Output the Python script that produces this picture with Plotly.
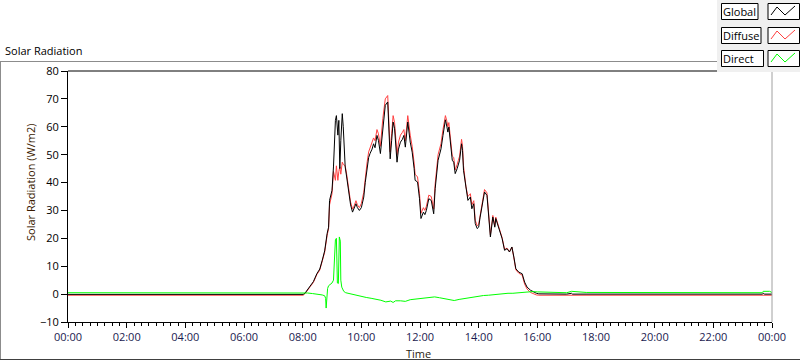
import pandas as pd
import plotly.graph_objects as go

# ---------------- data ----------------
series_names = ["Global", "Diffuse", "Direct"]

gd_times = ["00:00", "08:01", "08:05", "08:10", "08:16", "08:22", "08:29", "08:35", "08:40", "08:45",
            "08:50", "08:53", "08:55", "09:00", "09:03", "09:05", "09:07", "09:09", "09:10", "09:12",
            "09:14", "09:16", "09:18", "09:21", "09:23", "09:27", "09:30", "09:34", "09:38", "09:42",
            "09:45", "09:49", "09:52", "09:56", "10:00", "10:05", "10:08", "10:12", "10:15", "10:18",
            "10:22", "10:25", "10:28", "10:32", "10:35", "10:39", "10:44", "10:49", "10:54", "10:56",
            "10:59", "11:02", "11:05", "11:08", "11:13", "11:16", "11:20", "11:24", "11:27", "11:30",
            "11:35", "11:40", "11:44", "11:48", "11:50", "11:55", "11:59", "12:02", "12:07", "12:10",
            "12:13", "12:18", "12:23", "12:28", "12:31", "12:37", "12:43", "12:47", "12:52", "12:55",
            "12:57", "12:59", "13:02", "13:06", "13:09", "13:12", "13:16", "13:21", "13:25", "13:27",
            "13:29", "13:34", "13:38", "13:43", "13:46", "13:50", "13:53", "13:57", "14:00", "14:03",
            "14:07", "14:12", "14:17", "14:20", "14:24", "14:29", "14:33", "14:35", "14:41", "14:44",
            "14:48", "14:53", "14:58", "15:03", "15:08", "15:12", "15:16", "15:22", "15:29", "15:34",
            "15:39", "15:46", "15:52", "15:58", "16:03", "17:00", "17:10", "17:12", "23:40", "23:42",
            "23:45", "24:00"]

global_vals = [-0.1, -0.1, 0.4, 1.5, 3.1, 4.5, 7.3, 9.0, 12.1, 15.5,
               21.7, 24.0, 33.6, 37.2, 45.6, 55.0, 62.3, 64.0, 59.9, 57.0,
               62.3, 45.0, 55.0, 64.7, 60.0, 45.6, 42.0, 36.0, 32.0, 29.4,
               30.5, 32.4, 31.0, 30.0, 31.0, 34.8, 40.0, 45.6, 49.0, 50.5,
               52.0, 53.9, 52.5, 56.9, 55.1, 50.4, 60.5, 67.7, 68.9, 60.5,
               48.5, 55.0, 61.7, 59.3, 47.3, 52.0, 54.5, 55.5, 56.9, 52.7,
               61.7, 54.5, 50.9, 45.0, 40.8, 40.2, 34.2, 27.1, 29.4, 28.5,
               30.0, 34.2, 33.6, 28.8, 37.8, 48.0, 52.1, 56.9, 62.5, 60.0,
               58.1, 59.9, 53.9, 48.0, 47.3, 43.2, 45.0, 48.0, 53.9, 51.5,
               44.4, 37.2, 33.6, 34.8, 30.6, 32.4, 25.3, 23.5, 24.0, 27.6,
               31.2, 36.6, 35.4, 28.8, 20.5, 27.6, 24.0, 27.1, 23.5, 21.7,
               19.9, 15.7, 16.3, 15.1, 16.9, 13.3, 9.1, 7.9, 7.3, 4.3,
               2.5, 1.4, 0.75, 0.3, 0.1, 0.0, 0.3, 0.0, 0.0, 0.3,
               0.0, 0.0]

diffuse_vals = [-0.4, -0.4, 0.2, 1.2, 2.8, 4.2, 7.0, 8.6, 11.8, 15.0,
                21.0, 23.5, 32.0, 36.0, 44.0, 42.0, 40.8, 46.0, 44.0, 40.8,
                44.0, 45.6, 43.0, 47.3, 46.5, 46.0, 43.0, 37.0, 33.0, 30.5,
                31.5, 33.5, 32.0, 31.0, 32.5, 36.5, 42.0, 47.5, 51.0, 52.5,
                54.0, 56.0, 55.0, 59.0, 57.5, 53.0, 63.0, 70.0, 71.2, 63.0,
                51.0, 57.5, 64.0, 61.5, 50.0, 54.5, 57.0, 58.0, 59.0, 55.0,
                64.0, 57.0, 53.0, 47.0, 43.0, 42.0, 36.0, 29.0, 31.0, 30.0,
                31.5, 35.5, 35.0, 30.5, 39.5, 50.0, 54.0, 59.0, 64.0, 62.0,
                60.0, 61.5, 55.5, 49.5, 49.0, 44.5, 46.5, 49.5, 55.5, 53.0,
                46.0, 38.5, 35.0, 36.0, 32.0, 33.5, 26.5, 24.5, 25.0, 28.5,
                32.0, 37.5, 36.3, 29.5, 21.2, 28.2, 24.5, 27.6, 24.0, 22.0,
                20.2, 16.0, 16.5, 15.2, 16.8, 13.0, 8.7, 7.5, 6.8, 3.6,
                1.8, 0.6, 0.0, -0.3, -0.4, -0.4, -0.4, -0.4, -0.4, -0.4,
                -0.4, -0.4]

direct_times = ["00:00", "08:01", "08:10", "08:20", "08:30", "08:40", "08:45", "08:47", "08:48", "08:49",
                "08:51", "08:53", "08:56", "09:00", "09:03", "09:05", "09:07", "09:09", "09:10", "09:11",
                "09:13", "09:14", "09:15", "09:17", "09:18", "09:20", "09:24", "09:28", "09:35", "09:45",
                "10:00", "10:10", "10:20", "10:30", "10:40", "10:50", "11:00", "11:05", "11:10", "11:20",
                "11:30", "11:40", "11:50", "12:00", "12:10", "12:20", "12:30", "12:40", "12:50", "13:00",
                "13:10", "13:20", "13:30", "13:40", "13:50", "14:00", "14:10", "14:20", "14:30", "14:40",
                "14:50", "15:00", "15:10", "15:20", "15:30", "15:40", "15:50", "16:00", "16:30", "17:00",
                "17:10", "17:30", "17:40", "23:40", "23:42", "23:55", "24:00"]

direct_vals = [0.5, 0.5, 0.4, 0.2, 0.0, -0.3, -0.6, -1.5, -5.0, -1.0,
               2.0, 3.0, 3.5, 4.0, 5.0, 15.0, 19.5, 20.0, 12.0, 4.0,
               3.8, 19.0, 20.5, 19.0, 5.0, 2.5, 1.0, 0.5, 0.2, -0.3,
               -0.7, -1.2, -1.5, -1.8, -2.2, -2.8, -2.5, -3.0, -2.4, -2.4,
               -2.6, -2.0, -1.8, -1.6, -1.4, -1.2, -1.0, -1.3, -1.6, -2.0,
               -2.3, -1.9, -1.6, -1.4, -1.0, -0.9, -0.5, -0.4, -0.2, 0.0,
               0.1, 0.3, 0.3, 0.5, 0.6, 0.8, 0.9, 0.8, 0.6, 0.5,
               1.0, 0.9, 0.6, 0.5, 1.0, 1.0, 0.6]

x_tick_labels = ["00:00", "02:00", "04:00", "06:00", "08:00", "10:00", "12:00",
                 "14:00", "16:00", "18:00", "20:00", "22:00", "00:00"]
y_ticks = [-10, 0, 10, 20, 30, 40, 50, 60, 70, 80]

# ---------------- helpers ----------------
BASE = pd.Timestamp("2024-01-01")


def to_dt(hhmm_list):
    out = []
    for s in hhmm_list:
        h, m = s.split(":")
        out.append(BASE + pd.Timedelta(hours=int(h), minutes=int(m)))
    return out


tick_vals = [BASE + pd.Timedelta(hours=2 * i) for i in range(len(x_tick_labels))]

colors = {"Global": "#000000", "Diffuse": "#ff4040", "Direct": "#00ff00"}

fig = go.Figure()
fig.add_trace(go.Scatter(x=to_dt(gd_times), y=diffuse_vals, mode="lines", name="Diffuse",
                         line=dict(color=colors["Diffuse"], width=1)))
fig.add_trace(go.Scatter(x=to_dt(gd_times), y=global_vals, mode="lines", name="Global",
                         line=dict(color=colors["Global"], width=1)))
fig.add_trace(go.Scatter(x=to_dt(direct_times), y=direct_vals, mode="lines", name="Direct",
                         line=dict(color=colors["Direct"], width=1)))

W, H = 800, 361
L, R, T, B = 68, 28, 71, 39
pw, ph = W - L - R, H - T - B

FONT = "Open Sans"

fig.update_layout(
    width=W, height=H,
    margin=dict(l=L, r=R, t=T, b=B, pad=0),
    paper_bgcolor="white", plot_bgcolor="white",
    showlegend=False,
    font=dict(family=FONT, size=11, color="#000000"),
    xaxis=dict(
        range=[BASE, BASE + pd.Timedelta(hours=24)],
        tickmode="array", tickvals=tick_vals, ticktext=x_tick_labels,
        ticks="outside", ticklen=5, tickwidth=1, tickcolor="#000000",
        showline=True, linecolor="#000000", linewidth=1,
        showgrid=False, zeroline=False,
        tickfont=dict(family=FONT, size=11, color="#1a1a50"),
        minor=dict(ticks="outside", ticklen=3, tickcolor="#000000",
                   dtick=15 * 60 * 1000, tick0=BASE, showgrid=False),
    ),
    yaxis=dict(
        range=[-10, 80], tickvals=y_ticks,
        ticks="outside", ticklen=6, tickwidth=1, tickcolor="#000000",
        showline=True, linecolor="#000000", linewidth=1,
        showgrid=False, zeroline=False,
        tickfont=dict(family=FONT, size=11, color="#000000"),
    ),
)


def px(x):
    return (x - L) / pw


def py(y):
    return 1 - (y - T) / ph


shapes = []
# outer panel frame
shapes.append(dict(type="line", xref="paper", yref="paper", x0=px(0), x1=px(717),
                   y0=py(61.5), y1=py(61.5), line=dict(color="#8c8c8c", width=1)))
shapes.append(dict(type="line", xref="paper", yref="paper", x0=px(0.5), x1=px(0.5),
                   y0=py(61.5), y1=py(359.5), line=dict(color="#8c8c8c", width=1)))
shapes.append(dict(type="line", xref="paper", yref="paper", x0=px(0), x1=px(800),
                   y0=py(359.5), y1=py(359.5), line=dict(color="#404040", width=1)))
# plot frame top (black) and right (gray)
shapes.append(dict(type="line", xref="paper", yref="paper", x0=0, x1=1, y0=1, y1=1,
                   line=dict(color="#000000", width=1)))
shapes.append(dict(type="line", xref="paper", yref="paper", x0=1, x1=1, y0=0, y1=1,
                   line=dict(color="#a0a0a0", width=1)))
# legend panel
shapes.append(dict(type="rect", xref="paper", yref="paper", x0=px(717), x1=px(800),
                   y0=py(72), y1=py(0), fillcolor="#f0f0f0", line=dict(width=0), layer="above"))
rows = [(3, 19), (27, 43), (50, 66)]
label_box_right = [758, 761, 763.5]
for (y0, y1), name, xr in zip(rows, series_names, label_box_right):
    shapes.append(dict(type="rect", xref="paper", yref="paper", x0=px(721.5), x1=px(xr),
                       y0=py(y1 + 0.5), y1=py(y0 + 0.5), fillcolor="#ffffff",
                       line=dict(color="#000000", width=1), layer="above"))
    shapes.append(dict(type="rect", xref="paper", yref="paper", x0=px(768), x1=px(799.5),
                       y0=py(y1 + 0.5), y1=py(y0 + 0.5), fillcolor="#ffffff",
                       line=dict(color="#000000", width=1), layer="above"))
    zx = [771, 777, 785, 795]
    zy = [y1 - 4, y0 + 4, y1 - 4, y0 + 3]
    path = "M " + " L ".join(f"{px(a)},{py(b)}" for a, b in zip(zx, zy))
    shapes.append(dict(type="path", xref="paper", yref="paper", path=path,
                       line=dict(color=colors[name], width=1), layer="above"))
fig.update_layout(shapes=shapes)

annotations = [
    dict(text="Solar Radiation", xref="paper", yref="paper", x=px(3), y=py(50),
         xanchor="left", yanchor="middle", showarrow=False,
         font=dict(family=FONT, size=11, color="#000000")),
    dict(text="Solar Radiation (W/m2)", xref="paper", yref="paper", x=px(30), y=py(183),
         xanchor="center", yanchor="middle", showarrow=False, textangle=-90,
         font=dict(family=FONT, size=11, color="#3a1a00")),
    dict(text="Time", xref="paper", yref="paper", x=px(418), y=py(353),
         xanchor="center", yanchor="middle", showarrow=False,
         font=dict(family=FONT, size=11, color="#2a1a10")),
]
for (y0, y1), name in zip(rows, series_names):
    annotations.append(dict(text=name, xref="paper", yref="paper", x=px(721), y=py((y0 + y1) / 2 + 0.5),
                            xanchor="left", yanchor="middle", showarrow=False,
                            font=dict(family=FONT, size=11, color="#000000")))
fig.update_layout(annotations=annotations)

fig.write_html("out.html",
               config={"displayModeBar": False},
               post_script="document.body.style.margin='0';document.body.style.overflow='hidden';")
